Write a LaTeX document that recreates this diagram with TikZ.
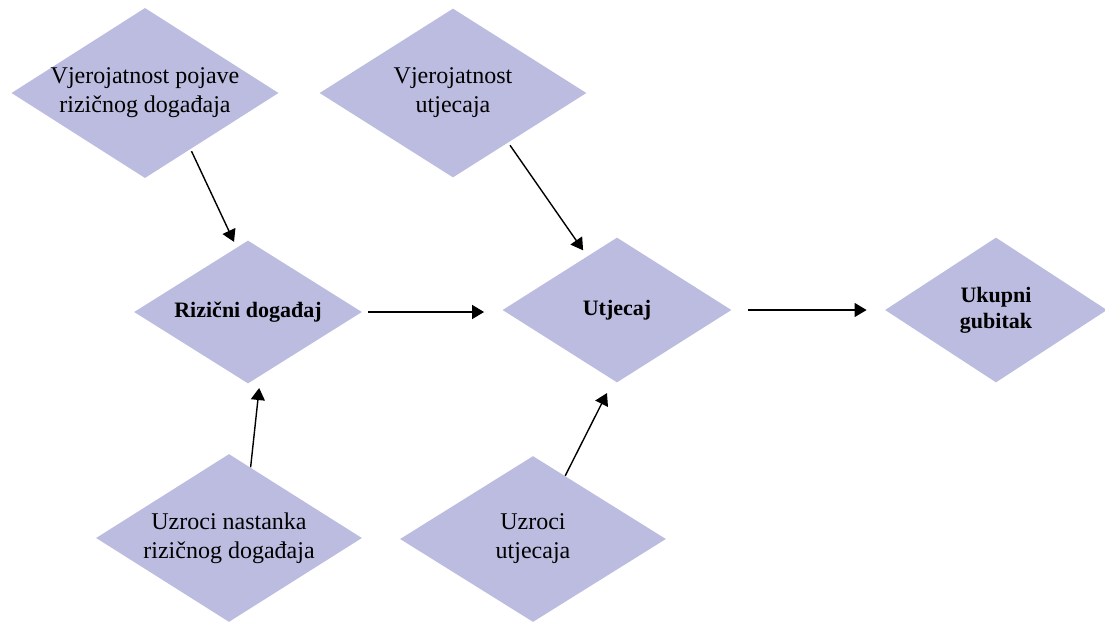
\documentclass[tikz,border=0pt]{standalone}
\usepackage{fontspec}
\setmainfont{Liberation Serif}
\usepackage{tikz}
\usetikzlibrary{shapes.geometric,arrows.meta}
\definecolor{rombboja}{RGB}{187,188,223}

\begin{document}
\begin{tikzpicture}[x=0.5pt, y=-0.5pt, every node/.style = {align=center},
    romb/.style = {diamond, fill=rombboja, inner sep=0pt, shape aspect=1.57,
      font=\fontsize{12}{14.5}\selectfont},
    glavni/.style = {romb, font=\fontsize{11}{13}\selectfont\bfseries},
    strelica/.style = {-{Triangle[length=6pt,width=7pt]}, line width=0.7pt}]
  \useasboundingbox (0,0) rectangle (1105,622);
  \clip (0,0) rectangle (1105,622);

  \node[romb, minimum width=133pt, minimum height=84.5pt] (vpr) at (145,93)
    {Vjerojatnost pojave\\rizičnog događaja};
  \node[romb, minimum width=133.5pt, minimum height=84.5pt] (vu) at (453,93)
    {Vjerojatnost\\utjecaja};
  \node[glavni, minimum width=114pt, minimum height=71.5pt] (rd) at (248,312)
    {Rizični događaj};
  \node[glavni, minimum width=114.5pt, minimum height=72.5pt] (ut) at (617,310)
    {Utjecaj};
  \node[glavni, minimum width=111pt, minimum height=72.5pt] (ug) at (996,310)
    {Ukupni\\gubitak};
  \node[romb, minimum width=133pt, minimum height=84pt] (unrd) at (229,538)
    {Uzroci nastanka\\rizičnog događaja};
  \node[romb, minimum width=133pt, minimum height=83pt] (uu) at (533,539)
    {Uzroci\\utjecaja};

  \draw[strelica, shorten <=1pt, shorten >=3pt] (vpr.-51) -- (rd.100);
  \draw[strelica, shorten <=1.5pt, shorten >=3.5pt] (vu.-42) -- (ut.119);
  \draw[strelica, shorten <=3pt, shorten >=9pt] (rd.east) -- (rd.east -| ut.west);
  \draw[strelica, shorten <=8pt, shorten >=9pt] (ut.east) -- (ug.west);
  \draw[strelica, shorten >=6pt] (unrd.73) -- (rd.-79);
  \draw[strelica, shorten >=7pt] (uu.63) -- (ut.-93);
\end{tikzpicture}
\end{document}
